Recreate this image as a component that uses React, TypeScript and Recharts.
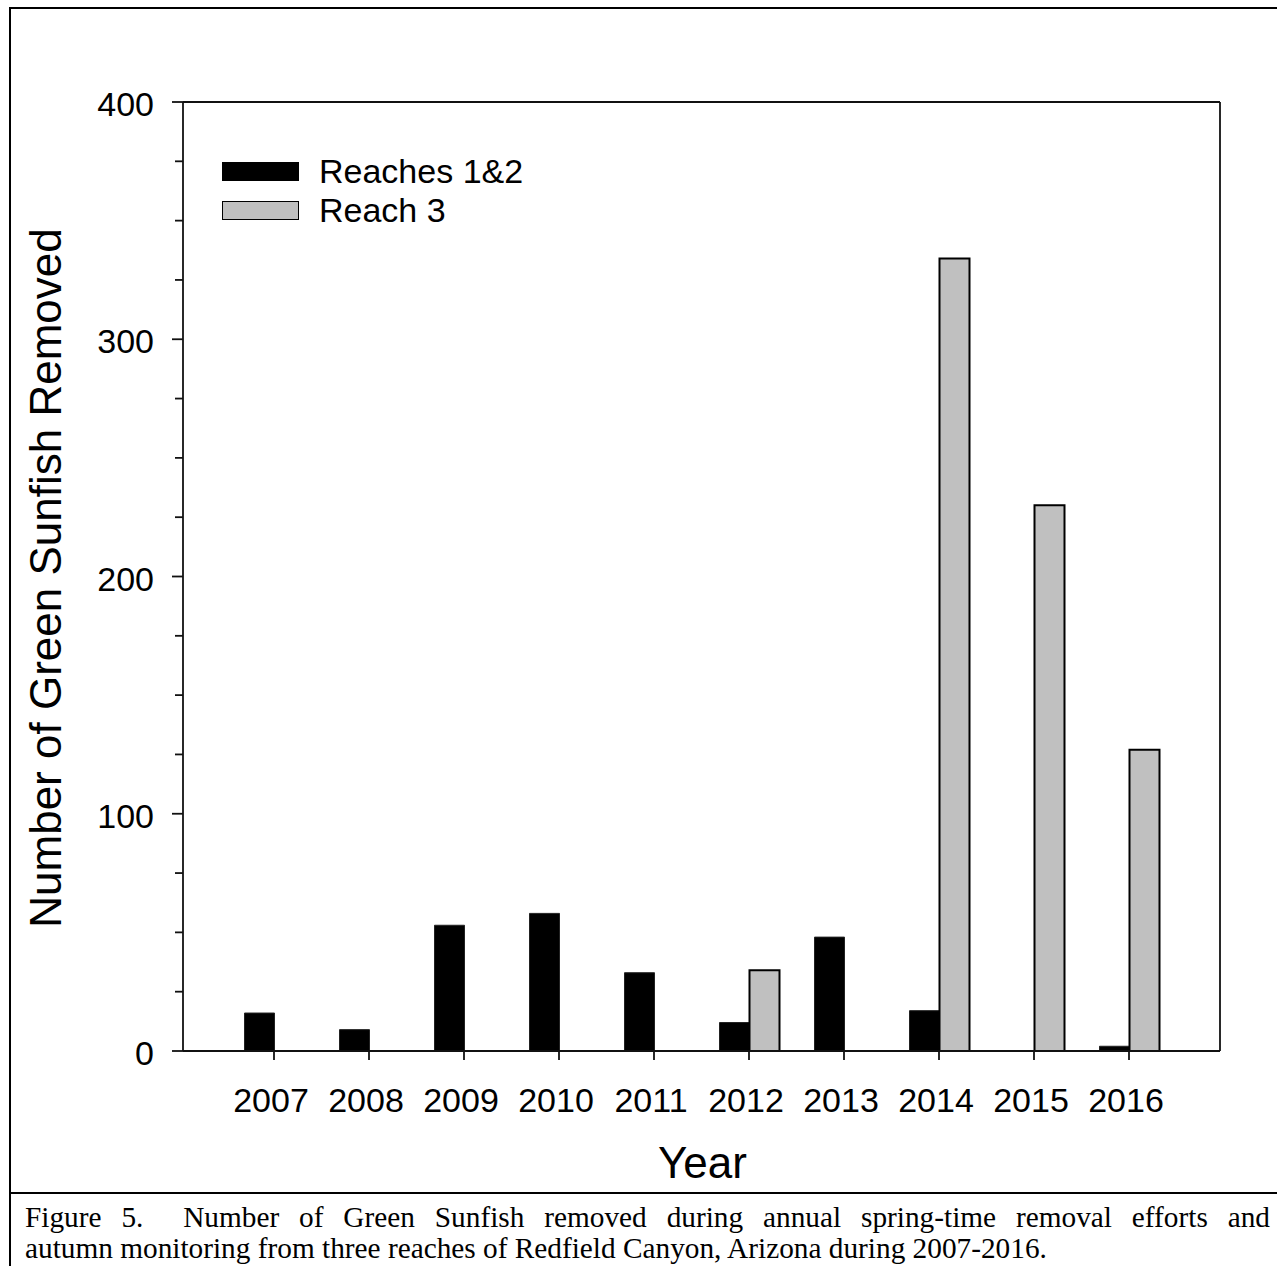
import React from 'react';
import { BarChart, Bar, XAxis, YAxis, ReferenceLine, Legend } from 'recharts';

// ---- data ----
const years = ['2007', '2008', '2009', '2010', '2011', '2012', '2013', '2014', '2015', '2016'];
const reaches12: (number | null)[] = [16, 9, 53, 58, 33, 12, 48, 17, null, 2];
const reach3: (number | null)[] = [null, null, null, null, null, 34, null, 334, 230, 127];
const seriesNames = ['Reaches 1&2', 'Reach 3'];
const yTicks = [0, 25, 50, 75, 100, 125, 150, 175, 200, 225, 250, 275, 300, 325, 350, 375, 400];
const yTitle = 'Number of Green Sunfish Removed';
const xTitle = 'Year';
const captionLine1 = 'Figure 5.\u00a0 Number of Green Sunfish removed during annual spring-time removal efforts and';
const captionLine2 = 'autumn monitoring from three reaches of Redfield Canyon, Arizona during 2007-2016.';

const data = years.map((y, i) => ({ year: y, r12: reaches12[i], r3: reach3[i] }));

const SANS = '"Liberation Sans", Arial, sans-serif';
const SERIF = '"Liberation Serif", "Times New Roman", serif';
const TICK_FS = 34;
const TITLE_FS = 44;
const AX = '#111';

const LeftTick = (props: any) => {
  const { x, y, payload } = props;
  const major = payload.value % 100 === 0;
  const len = major ? 11 : 8;
  return (
    <g>
      <line x1={x - len} x2={x} y1={y} y2={y} stroke={AX} strokeWidth={1.8} />
      {major && (
        <text x={x - 29} y={y + 2} dy="0.36em" textAnchor="end" fontSize={TICK_FS} fontFamily={SANS} fill="#000">
          {payload.value}
        </text>
      )}
    </g>
  );
};

const RightTick = (props: any) => {
  const { x, y, payload } = props;
  const major = payload.value % 100 === 0;
  const len = major ? 11 : 8;
  return <line x1={x} x2={x + len} y1={y} y2={y} stroke={AX} strokeWidth={1.8} />;
};

const BottomTick = (props: any) => {
  const { x, y, payload } = props;
  return (
    <g>
      <line x1={x} x2={x} y1={y} y2={y + 9} stroke={AX} strokeWidth={1.8} />
      <text x={x - 3} y={y + 49} dy="0.36em" textAnchor="middle" fontSize={TICK_FS} fontFamily={SANS} fill="#000">
        {payload.value}
      </text>
    </g>
  );
};

const YTitle = (props: any) => {
  const vb = props.viewBox || { x: 0, y: 102, width: 183, height: 949 };
  const cx = vb.x + vb.width - 138;
  const cy = vb.y + vb.height / 2 + 1.5;
  return (
    <text
      x={cx}
      y={cy}
      dy="0.36em"
      transform={`rotate(-90, ${cx}, ${cy})`}
      textAnchor="middle"
      fontSize={TITLE_FS}
      fontFamily={SANS}
      fill="#000"
    >
      {yTitle}
    </text>
  );
};

const XTitle = (props: any) => {
  const vb = props.viewBox || { x: 183, y: 1051, width: 1037, height: 215 };
  const cx = vb.x + vb.width / 2 + 1;
  const cy = vb.y + 111;
  return (
    <text x={cx} y={cy} dy="0.36em" textAnchor="middle" fontSize={TITLE_FS} fontFamily={SANS} fill="#000">
      {xTitle}
    </text>
  );
};

const LegendContent = (props: any) => {
  const payload = [...(props.payload || [])].sort(
    (a: any, b: any) => seriesNames.indexOf(a.value) - seriesNames.indexOf(b.value)
  );
  return (
    <div style={{ display: 'flex', flexDirection: 'column' }}>
      {payload.map((e: any, i: number) => (
        <div key={i} style={{ display: 'flex', alignItems: 'center', height: 39 }}>
          <div
            style={{
              width: 77,
              height: 19,
              background: e.color,
              border: '1.5px solid #000',
              boxSizing: 'border-box',
            }}
          />
          <span style={{ marginLeft: 20, fontSize: TICK_FS, fontFamily: SANS, color: '#000', lineHeight: '39px' }}>
            {e.value}
          </span>
        </div>
      ))}
    </div>
  );
};

export default function App() {
  return (
    <div
      style={{
        position: 'absolute',
        left: 0,
        top: 0,
        width: 1277,
        height: 1266,
        overflow: 'hidden',
        background: '#fff',
      }}
    >
      {/* figure frame */}
      <div
        style={{
          position: 'absolute',
          left: 9,
          top: 7,
          width: 1320,
          height: 1320,
          borderLeft: '2px solid #000',
          borderTop: '2px solid #000',
        }}
      />
      <div style={{ position: 'absolute', left: 9, top: 1192, width: 1320, height: 2, background: '#000' }} />

      <div style={{ position: 'absolute', left: 0, top: 0 }}>
        <BarChart
          width={1277}
          height={1266}
          data={data}
          margin={{ top: 102, right: 0, bottom: 0, left: 0 }}
          barGap={0}
        >
          <XAxis
            dataKey="year"
            xAxisId="x"
            height={215}
            padding={{ left: 43.5, right: 43.5 }}
            tickSize={0}
            tickMargin={0}
            tick={<BottomTick />}
            tickLine={false}
            axisLine={{ stroke: AX, strokeWidth: 1.8 }}
            interval={0}
            label={XTitle}
          />
          <YAxis
            yAxisId="left"
            width={183}
            domain={[0, 400]}
            ticks={yTicks}
            interval={0}
            tickSize={0}
            tickMargin={0}
            tick={<LeftTick />}
            tickLine={false}
            axisLine={{ stroke: AX, strokeWidth: 1.8 }}
            label={YTitle}
          />
          <YAxis
            yAxisId="right"
            orientation="right"
            width={57}
            domain={[0, 400]}
            ticks={yTicks}
            interval={0}
            tickSize={0}
            tickMargin={0}
            tick={<RightTick />}
            tickLine={false}
            axisLine={{ stroke: AX, strokeWidth: 1.8 }}
          />
          <ReferenceLine yAxisId="left" xAxisId="x" y={400} stroke={AX} strokeWidth={1.8} />
          <Legend
            layout="vertical"
            align="center"
            verticalAlign="middle"
            content={<LegendContent />}
            wrapperStyle={{ left: 222, top: 152, width: 400, height: 80 }}
          />
          <Bar
            dataKey="r12"
            name={seriesNames[0]}
            xAxisId="x"
            yAxisId="left"
            fill="#000"
            stroke="#222"
            strokeWidth={1}
            barSize={30}
            isAnimationActive={false}
          />
          <Bar
            dataKey="r3"
            name={seriesNames[1]}
            xAxisId="x"
            yAxisId="left"
            fill="#C0C0C0"
            stroke="#000"
            strokeWidth={2}
            barSize={30}
            isAnimationActive={false}
          />
        </BarChart>
      </div>

      {/* caption */}
      <div
        style={{
          position: 'absolute',
          left: 25,
          top: 1202,
          width: 1245,
          fontFamily: SERIF,
          fontSize: 29.3,
          lineHeight: '31px',
          color: '#000',
        }}
      >
        <div style={{ textAlign: 'justify', textAlignLast: 'justify', whiteSpace: 'nowrap' }}>{captionLine1}</div>
        <div style={{ whiteSpace: 'nowrap' }}>{captionLine2}</div>
      </div>
    </div>
  );
}
